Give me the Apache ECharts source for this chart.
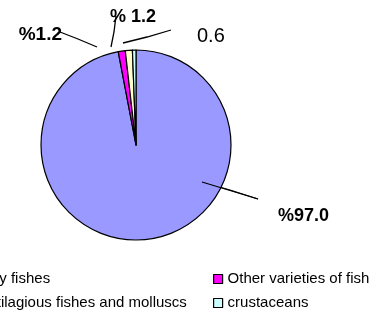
<!DOCTYPE html>
<html><head><meta charset="utf-8">
<script src="https://cdn.jsdelivr.net/npm/echarts@6/dist/echarts.min.js"></script>
<style>html,body{margin:0;padding:0;background:#fff}#c{width:375px;height:311px}</style>
</head><body><div id="c"></div>
<script>
var categories = ["Bony fishes", "Other varieties of fish", "Cartilagious fishes and molluscs", "crustaceans"];
var values = [97.0, 1.2, 1.2, 0.6];
var labelTexts = ["%97.0", "%1.2", "% 1.2", "0.6"];
var colors = ["#9999FF", "#FF00FF", "#FFFFCC", "#CCFFFF"];

var labelPos = [
  {x: 278, y: 216, align: 'left', line: [[202,182],[230,190],[258,199]]},
  {x: 62, y: 35, align: 'right', line: [[97,47],[78,39],[60,32]]},
  {x: 110, y: 17, align: 'left', line: [[111,47],[114,32],[116,16]]},
  {x: 197, y: 36, align: 'left', line: [[123,43],[147,37],[171,30]]}
];

var chart = echarts.init(document.getElementById('c'), null, {renderer: 'canvas'});
var data = categories.map(function (n, i) {
  return {
    name: n, value: values[i],
    itemStyle: {color: colors[i]},
    labelLine: {showAbove: true},
    label: i === 3 ? {fontWeight: 'normal', fontSize: 20} : (i === 1 ? {fontSize: 19} : {})
  };
});
var legendText = {fontFamily: 'Liberation Sans, Arial, sans-serif', fontSize: 15, lineHeight: 16, color: '#000'};
var legendCommon = {
  orient: 'vertical', top: 271, height: 60, padding: 0,
  itemWidth: 9, itemHeight: 9, itemGap: 8, icon: 'rect',
  textStyle: legendText,
  itemStyle: {borderColor: '#000', borderWidth: 1.2}
};
chart.setOption({
  animation: false,
  legend: [
    Object.assign({}, legendCommon, {left: -42, data: [categories[0], categories[2]]}),
    Object.assign({}, legendCommon, {left: 213, data: [categories[1], categories[3]]})
  ],
  graphic: [{
    type: 'line', z: 100,
    shape: {x1: labelPos[0].line[0][0], y1: labelPos[0].line[0][1], x2: labelPos[0].line[2][0], y2: labelPos[0].line[2][1]},
    style: {stroke: '#000', lineWidth: 1.3}
  }],
  series: [{
    type: 'pie',
    center: [136, 145],
    radius: 95,
    startAngle: 90,
    clockwise: true,
    avoidLabelOverlap: false,
    itemStyle: {borderColor: '#000', borderWidth: 1.2},
    emphasis: {disabled: true},
    label: {
      show: true,
      formatter: function (p) { return labelTexts[p.dataIndex]; },
      fontFamily: 'Liberation Sans, Arial, sans-serif',
      fontSize: 18, fontWeight: 'bold', color: '#000'
    },
    labelLine: {show: true, showAbove: true, lineStyle: {color: '#000', width: 1.3}},
    labelLayout: function (p) {
      var L = labelPos[p.dataIndex];
      return {x: L.x, y: L.y, align: L.align, verticalAlign: 'middle', labelLinePoints: L.line};
    },
    data: data
  }]
});
</script></body></html>
